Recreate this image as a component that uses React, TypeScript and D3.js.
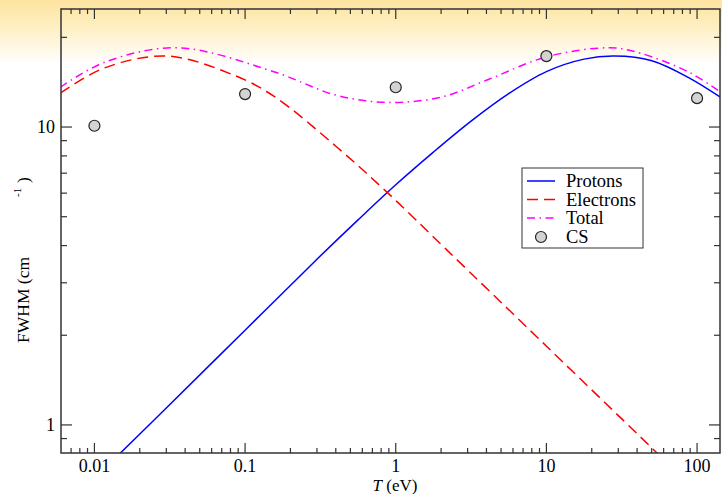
import React from "react";
import * as d3 from "d3";

// Data (T in eV, FWHM in cm^-1)
const protonsT = [0.0147, 0.03, 0.1, 0.3, 0.56, 1, 1.778, 3.162, 5.62, 10, 17.8, 28.2, 50.1, 89.1, 146];
const protonsV = [0.8, 1.14, 2.08, 3.6, 4.87, 6.4, 8.24, 10.47, 12.95, 15.35, 16.9, 17.3, 16.7, 14.6, 12.5];

const electronsT = [0.00594, 0.0117, 0.0305, 0.0851, 0.155, 0.406, 0.885, 2.18, 10.1, 54.2, 60];
const electronsV = [13.0, 15.8, 17.3, 14.9, 12.7, 8.57, 6.01, 3.87, 1.83, 0.805, 0.765];

const totalT = [0.00594, 0.0117, 0.0356, 0.157, 0.4, 0.87, 2, 4.2, 10, 26.4, 42, 90, 146];
const totalV = [13.6, 16.5, 18.45, 15.3, 12.8, 12.1, 12.6, 14.5, 17.2, 18.45, 17.7, 15.2, 13.0];

const csT = [0.01, 0.1, 1, 10, 100];
const csV = [10.1, 12.9, 13.6, 17.3, 12.5];

const xMajor = [0.01, 0.1, 1, 10, 100];
const xMajorLabels = ["0.01", "0.1", "1", "10", "100"];
const yMajor = [1, 10];
const yMajorLabels = ["1", "10"];

const legendLabels = ["Protons", "Electrons", "Total", "CS"];

const W = 722;
const H = 494;
const L = 61, R = 720, T = 9, B = 453;

const FONT = '"Liberation Serif", "Times New Roman", serif';

export default function App() {
  const x = d3.scaleLog().domain([0.006, 142]).range([L, R]);
  const y = d3.scaleLog().domain([0.805, 24.9]).range([B, T]);

  const [x0, x1] = x.domain();
  const [y0, y1] = y.domain();

  const xMinor: number[] = [];
  for (let e = -3; e <= 2; e++) {
    for (let m = 2; m <= 9; m++) {
      const v = m * Math.pow(10, e);
      if (v > x0 && v < x1) xMinor.push(v);
    }
  }
  const yMinor: number[] = [];
  for (let e = -1; e <= 1; e++) {
    for (let m = 2; m <= 9; m++) {
      const v = m * Math.pow(10, e);
      if (v > y0 && v < y1 && !yMajor.includes(v)) yMinor.push(v);
    }
  }

  const line = d3
    .line<[number, number]>()
    .x((d) => x(d[0]))
    .y((d) => y(d[1]))
    .curve(d3.curveCatmullRom.alpha(0.5));

  const zip = (a: number[], b: number[]) => a.map((t, i) => [t, b[i]] as [number, number]);

  const majLen = 10;
  const minLen = 5;
  const axisColor = "#333";

  const legendX = 522, legendY = 168, legendW = 121, legendH = 80;
  const rowY = [181, 199.5, 218, 237];
  const styles = [
    { stroke: "#0000ff", dash: "none" },
    { stroke: "#ff0000", dash: "11,6" },
    { stroke: "#ff00ff", dash: "8,4.5,1.5,4.5" },
  ];

  const textStyle = (size: number) => ({ fontSize: size, fontFamily: FONT });

  return (
    <svg
      width={W}
      height={H}
      style={{ position: "absolute", left: 0, top: 0, display: "block" }}
    >
      <defs>
        <linearGradient id="bg" x1="0" y1="0" x2="0" y2={H} gradientUnits="userSpaceOnUse">
          <stop offset="0" stopColor="#fde3a0" />
          <stop offset={0.05} stopColor="#feeebf" />
          <stop offset={0.13} stopColor="#ffffff" />
          <stop offset="1" stopColor="#ffffff" />
        </linearGradient>
        <clipPath id="plot">
          <rect x={L} y={T} width={R - L} height={B - T} />
        </clipPath>
      </defs>
      <rect x={0} y={0} width={W} height={H} fill="url(#bg)" />

      <g clipPath="url(#plot)" fill="none" strokeWidth={1.5}>
        <path d={line(zip(protonsT, protonsV)) || ""} stroke={styles[0].stroke} />
        <path d={line(zip(electronsT, electronsV)) || ""} stroke={styles[1].stroke} strokeDasharray={styles[1].dash} />
        <path d={line(zip(totalT, totalV)) || ""} stroke={styles[2].stroke} strokeDasharray={styles[2].dash} />
      </g>

      {csT.map((t, i) => (
        <circle key={i} cx={x(t)} cy={y(csV[i])} r={5.5} fill="#d3d3d3" stroke="#222" strokeWidth={1.2} />
      ))}

      {/* frame */}
      <rect x={L} y={T} width={R - L} height={B - T} fill="none" stroke={axisColor} strokeWidth={1.5} />

      {/* ticks */}
      <g stroke={axisColor} strokeWidth={1.2}>
        {xMajor.map((v) => (
          <g key={"xm" + v}>
            <line x1={x(v)} x2={x(v)} y1={B} y2={B - majLen} />
            <line x1={x(v)} x2={x(v)} y1={T} y2={T + majLen} />
          </g>
        ))}
        {xMinor.map((v) => (
          <g key={"xn" + v}>
            <line x1={x(v)} x2={x(v)} y1={B} y2={B - minLen} />
            <line x1={x(v)} x2={x(v)} y1={T} y2={T + minLen} />
          </g>
        ))}
        {yMajor.map((v) => (
          <g key={"ym" + v}>
            <line x1={L} x2={L + majLen + 1} y1={y(v)} y2={y(v)} />
            <line x1={R} x2={R - majLen - 1} y1={y(v)} y2={y(v)} />
          </g>
        ))}
        {yMinor.map((v) => (
          <g key={"yn" + v}>
            <line x1={L} x2={L + minLen + 1} y1={y(v)} y2={y(v)} />
            <line x1={R} x2={R - minLen - 1} y1={y(v)} y2={y(v)} />
          </g>
        ))}
      </g>

      {/* tick labels */}
      {xMajor.map((v, i) => (
        <text key={"xl" + v} x={x(v)} y={472} textAnchor="middle" style={textStyle(18)}>
          {xMajorLabels[i]}
        </text>
      ))}
      {yMajor.map((v, i) => (
        <text key={"yl" + v} x={55} y={y(v) + 6} textAnchor="end" style={textStyle(18)}>
          {yMajorLabels[i]}
        </text>
      ))}

      {/* axis titles */}
      <text x={395} y={491} textAnchor="middle" style={textStyle(17)}>
        <tspan fontStyle="italic">T</tspan>
        <tspan> (eV)</tspan>
      </text>
      <g transform="translate(29, 0) rotate(-90)" style={textStyle(17.5)}>
        <text x={-343} y={0}>FWHM (cm</text>
        <text x={-197} y={-8} style={textStyle(11)}>-1</text>
        <text x={-183} y={0}>)</text>
      </g>

      {/* legend */}
      <rect x={legendX} y={legendY} width={legendW} height={legendH} fill="#fff" stroke="#333" strokeWidth={1} />
      {styles.map((s, i) => (
        <line key={"lg" + i} x1={527} x2={555} y1={rowY[i]} y2={rowY[i]} stroke={s.stroke} strokeWidth={1.5} strokeDasharray={s.dash} />
      ))}
      <circle cx={541} cy={rowY[3]} r={5.5} fill="#d3d3d3" stroke="#222" strokeWidth={1.2} />
      {legendLabels.map((lab, i) => (
        <text key={lab} x={566} y={rowY[i] + 6} style={textStyle(18.5)}>
          {lab}
        </text>
      ))}
    </svg>
  );
}
